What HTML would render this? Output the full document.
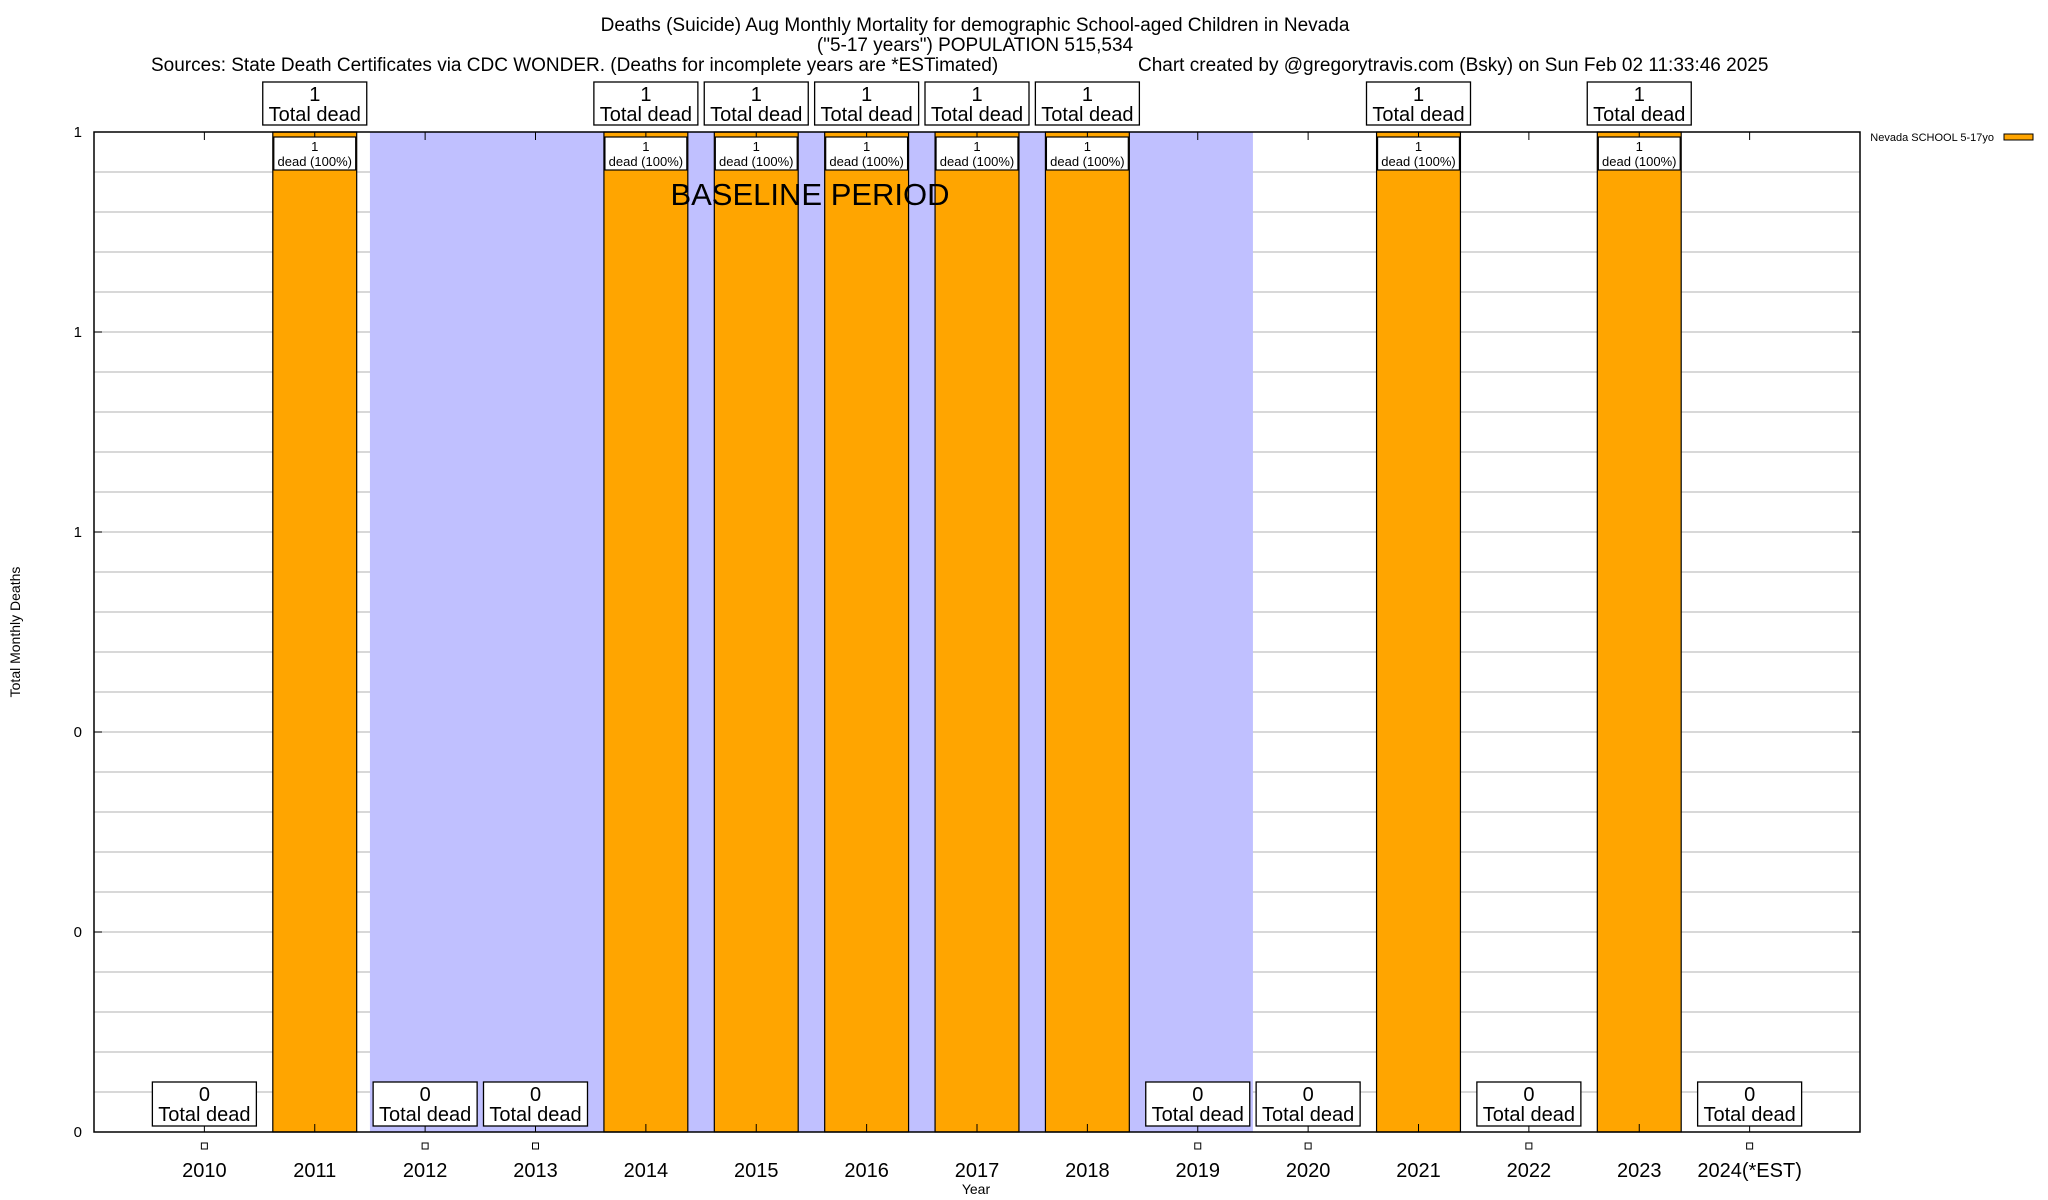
<!DOCTYPE html>
<html><head><meta charset="utf-8"><style>
html,body{margin:0;padding:0;background:#fff;}
svg{display:block;font-family:"Liberation Sans",sans-serif;}
</style></head><body>
<svg id="chart" width="2048" height="1200" viewBox="0 0 2048 1200" xmlns="http://www.w3.org/2000/svg">
<g font-size="19" text-anchor="middle">
<text x="975" y="31">Deaths (Suicide) Aug Monthly Mortality for demographic School-aged Children in Nevada</text>
<text x="975" y="51">("5-17 years") POPULATION 515,534</text>
<text x="151" y="71" text-anchor="start">Sources: State Death Certificates via CDC WONDER. (Deaths for incomplete years are *ESTimated)</text>
<text x="1138" y="71" text-anchor="start">Chart created by @gregorytravis.com (Bsky) on Sun Feb 02 11:33:46 2025</text>
</g>
<g id="grid"></g>
<g id="shade"></g>
<g id="bars"></g>
<g id="axes"></g>
<g id="labels"></g>
<text x="810" y="205" font-size="31" text-anchor="middle">BASELINE PERIOD</text>
<text x="976" y="1194" font-size="14" text-anchor="middle">Year</text>
<text transform="translate(20,632) rotate(-90)" font-size="14" text-anchor="middle">Total Monthly Deaths</text>
<g>
<text x="1994" y="141" font-size="11" text-anchor="end">Nevada SCHOOL 5-17yo</text>
<rect x="2004" y="134" width="29" height="6" fill="#ffa500" stroke="#000" stroke-width="1"/>
</g>
</svg>
<script>
const categories = ["2010","2011","2012","2013","2014","2015","2016","2017","2018","2019","2020","2021","2022","2023","2024(*EST)"];
const deaths = [0,1,0,0,1,1,1,1,1,0,0,1,0,1,0];
const yTicks = [0,0.2,0.4,0.6,0.8,1];
const yTickLabels = ["0","0","0","1","1","1"];
const baselineStart = 1.5, baselineEnd = 9.5;

const NS = "http://www.w3.org/2000/svg";
const L = 94, R = 1860, T = 132, B = 1132;
const xmin = -1, xmax = 15, ymax = 1;
const xs = i => L + (i - xmin) / (xmax - xmin) * (R - L);
const ys = v => B - v / ymax * (B - T);
const step = (R - L) / (xmax - xmin);
const bw = step * 0.76;
function mk(tag, attrs, parent, text){
  const e = document.createElementNS(NS, tag);
  for (const k in attrs) e.setAttribute(k, attrs[k]);
  if (text !== undefined) e.textContent = text;
  parent.appendChild(e); return e;
}
const grid = document.getElementById('grid');
for (let v = 0.04; v < ymax - 0.001; v += 0.04) {
  const ln = mk('line', {x1:L, x2:R, y1:ys(v), y2:ys(v), stroke:'#c0c0c0', 'stroke-width':1.3}, grid);
  
  
}
const shade = document.getElementById('shade');
const sr = mk('rect', {x:xs(baselineStart), y:T, width:xs(baselineEnd)-xs(baselineStart), height:B-T, fill:'#c0c0ff'}, shade);



const bars = document.getElementById('bars');
const labels = document.getElementById('labels');
const axes = document.getElementById('axes');
categories.forEach((c, i) => {
  const cx = xs(i);
  if (deaths[i] > 0) {
    const r = mk('rect', {x:cx-bw/2, y:ys(deaths[i]), width:bw, height:B-ys(deaths[i]), fill:'#ffa500', stroke:'#000', 'stroke-width':1.2}, bars);
    
    
    const g = mk('g', {}, labels);
    
    
    mk('rect', {x:cx-bw/2+1, y:ys(deaths[i])+5, width:bw-2, height:33, fill:'#fff', stroke:'#000', 'stroke-width':1.2}, g);
    mk('text', {x:cx, y:ys(deaths[i])+19, 'font-size':13, 'text-anchor':'middle'}, g, String(deaths[i]));
    mk('text', {x:cx, y:ys(deaths[i])+34, 'font-size':13, 'text-anchor':'middle'}, g, 'dead (100%)');
    const t = mk('g', {}, labels);
    
    
    mk('rect', {x:cx-52, y:ys(deaths[i])-50, width:104, height:43, fill:'#fff', stroke:'#000', 'stroke-width':1.3}, t);
    mk('text', {x:cx, y:ys(deaths[i])-31, 'font-size':20, 'text-anchor':'middle'}, t, String(deaths[i]));
    mk('text', {x:cx, y:ys(deaths[i])-11, 'font-size':20, 'text-anchor':'middle'}, t, 'Total dead');
  } else {
    const t = mk('g', {}, labels);
    
    
    mk('rect', {x:cx-52, y:ys(deaths[i])-50, width:104, height:44, fill:'#fff', stroke:'#000', 'stroke-width':1.3}, t);
    mk('text', {x:cx, y:ys(deaths[i])-31, 'font-size':20, 'text-anchor':'middle'}, t, String(deaths[i]));
    mk('text', {x:cx, y:ys(deaths[i])-11, 'font-size':20, 'text-anchor':'middle'}, t, 'Total dead');
    const sq = mk('rect', {x:cx-3, y:B+11, width:6, height:6, fill:'#fff', stroke:'#000', 'stroke-width':1}, axes);
    
    
  }
  mk('line', {x1:cx, x2:cx, y1:T, y2:T+8, stroke:'#000', 'stroke-width':1}, axes);
  mk('line', {x1:cx, x2:cx, y1:B, y2:B-8, stroke:'#000', 'stroke-width':1}, axes);
  const tl = mk('text', {x:cx, y:1177, 'font-size':20, 'text-anchor':'middle'}, axes, c);
  
  
});
const frame = mk('rect', {x:L, y:T, width:R-L, height:B-T, fill:'none', stroke:'#000', 'stroke-width':1.5}, axes);


yTicks.forEach((v, k) => {
  mk('line', {x1:L, x2:L+8, y1:ys(v), y2:ys(v), stroke:'#000', 'stroke-width':1}, axes);
  mk('line', {x1:R, x2:R-8, y1:ys(v), y2:ys(v), stroke:'#000', 'stroke-width':1}, axes);
  const yl = mk('text', {x:L-12, y:ys(v)+5, 'font-size':15, 'text-anchor':'end'}, axes, yTickLabels[k]);
  
  
});
</script>
</body></html>
